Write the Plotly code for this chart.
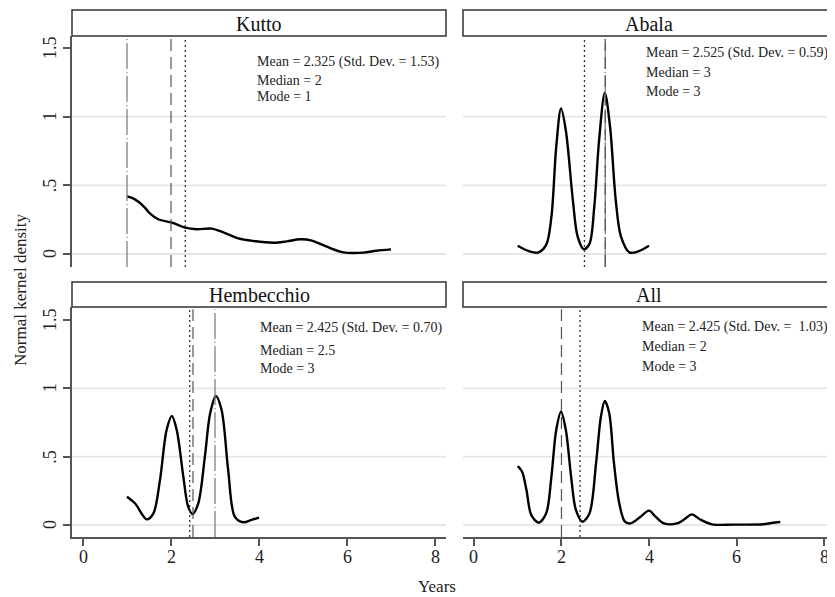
import plotly.graph_objects as go

# ---------------- data ----------------
panels = ["Kutto", "Abala", "Hembecchio", "All"]

kutto_x = [1.0, 1.1, 1.26, 1.4, 1.52, 1.71, 2.02, 2.32, 2.58, 2.92, 3.19, 3.53, 3.87, 4.33, 4.63, 4.93, 5.2, 5.54, 5.92, 6.37, 6.67, 7.0]
kutto_y = [0.42, 0.41, 0.38, 0.34, 0.296, 0.253, 0.228, 0.192, 0.18, 0.185, 0.158, 0.114, 0.095, 0.082, 0.092, 0.107, 0.098, 0.053, 0.012, 0.01, 0.024, 0.034]

abala_x = [1.0, 1.23, 1.46, 1.65, 1.77, 1.88, 1.99, 2.1, 2.26, 2.37, 2.51, 2.64, 2.75, 2.86, 2.99, 3.11, 3.24, 3.36, 3.55, 3.74, 4.0]
abala_y = [0.06, 0.024, 0.01, 0.066, 0.27, 0.78, 1.06, 0.90, 0.393, 0.126, 0.034, 0.075, 0.345, 0.83, 1.175, 0.927, 0.393, 0.126, 0.012, 0.017, 0.06]

hemb_x = [1.0, 1.18, 1.45, 1.6, 1.75, 1.9, 2.02, 2.13, 2.28, 2.39, 2.49, 2.62, 2.77, 2.89, 3.02, 3.15, 3.3, 3.45, 3.64, 3.83, 4.0]
hemb_y = [0.207, 0.159, 0.041, 0.085, 0.33, 0.695, 0.797, 0.695, 0.354, 0.134, 0.08, 0.159, 0.5, 0.817, 0.944, 0.841, 0.40, 0.061, 0.02, 0.037, 0.054]

all_x = [1.0, 1.1, 1.2, 1.31, 1.48, 1.65, 1.77, 1.88, 1.99, 2.1, 2.22, 2.33, 2.48, 2.64, 2.79, 2.9, 2.99, 3.09, 3.2, 3.32, 3.45, 3.58, 3.81, 4.0, 4.15, 4.34, 4.64, 4.8, 4.98, 5.17, 5.44, 5.94, 6.61, 6.8, 7.0]
all_y = [0.43, 0.39, 0.256, 0.073, 0.017, 0.085, 0.354, 0.695, 0.829, 0.695, 0.354, 0.11, 0.024, 0.085, 0.45, 0.79, 0.907, 0.82, 0.45, 0.159, 0.024, 0.012, 0.061, 0.105, 0.061, 0.012, 0.012, 0.04, 0.078, 0.04, 0.005, 0.003, 0.005, 0.015, 0.022]

means = [2.325, 2.525, 2.425, 2.425]
medians = [2, 3, 2.5, 2]
modes = [1, 3, 3, 3]
show_mode = [True, True, True, False]

mean_labels = ["Mean = 2.325 (Std. Dev. = 1.53)", "Mean = 2.525 (Std. Dev. = 0.59)",
               "Mean = 2.425 (Std. Dev. = 0.70)", "Mean = 2.425 (Std. Dev. =  1.03)"]
median_labels = ["Median = 2", "Median = 3", "Median = 2.5", "Median = 2"]
mode_labels = ["Mode = 1", "Mode = 3", "Mode = 3", "Mode = 3"]

x_ticks = [0, 2, 4, 6, 8]
x_ticktext = ["0", "2", "4", "6", "8"]
y_ticks = [0, 0.5, 1, 1.5]
y_ticktext = ["0", ".5", "1", "1.5"]

# ---------------- layout ----------------
FONT = "Liberation Serif"
OFF = 8  # page body margin: figure is drawn 8px in from the window corner
WW, WH = 835, 597
W, H = WW - OFF, WH - OFF
ml = 72 - OFF
mt = 10 - OFF
mr = 0
mb = WH - 537
pw = W - ml - mr
ph = H - mt - mb

def px_x(p):  # window pixel -> paper x
    return (p - OFF - ml) / pw

def px_y(p):  # window pixel -> paper y
    return (H - mb - (p - OFF)) / ph

xdom = [[0, px_x(446)], [px_x(463), 1.0], [0, px_x(446)], [px_x(463), 1.0]]
ydom_top = [px_y(267), px_y(36)]
ydom_bot = [0, px_y(307)]
ydom = [ydom_top, ydom_top, ydom_bot, ydom_bot]
yranges = [[-0.0947, 1.588], [-0.0947, 1.588], [-0.0878, 1.595], [-0.0878, 1.595]]

curves = [(kutto_x, kutto_y), (abala_x, abala_y), (hemb_x, hemb_y), (all_x, all_y)]

fig = go.Figure()
layout = dict(
    width=W, height=H,
    margin=dict(l=ml, r=mr, t=mt, b=mb, autoexpand=False),
    paper_bgcolor="white", plot_bgcolor="white",
    showlegend=False,
    font=dict(family=FONT, color="#222"),
)

shapes = []
annotations = []
TICKFONT = dict(family=FONT, size=18, color="#222")

for i in range(4):
    sfx = "" if i == 0 else str(i + 1)
    xa, ya = "x" + sfx, "y" + sfx
    fig.add_trace(go.Scatter(x=curves[i][0], y=curves[i][1], mode="lines",
                             line=dict(color="black", width=2.4, shape="spline", smoothing=0.9),
                             xaxis=xa, yaxis=ya, hoverinfo="skip"))
    left = i in (0, 2)
    bottom = i in (2, 3)
    layout["xaxis" + sfx] = dict(
        domain=xdom[i], range=[-0.25, 8.25], anchor=ya,
        showgrid=False, zeroline=False, automargin=False,
        showline=bottom, linecolor="#555", linewidth=1.5,
        ticks="outside" if bottom else "", ticklen=7, tickcolor="#555", tickwidth=1.5,
        tickvals=x_ticks, showticklabels=False,
    )
    layout["yaxis" + sfx] = dict(
        domain=ydom[i], range=yranges[i], anchor=xa,
        showgrid=False, zeroline=False, automargin=False,
        showline=left, linecolor="#555", linewidth=1.5,
        ticks="outside" if left else "", ticklen=7, tickcolor="#555", tickwidth=1.5,
        tickvals=y_ticks, showticklabels=False,
    )
    # tick labels placed as annotations (Stata-like spacing)
    if left:
        for tv, tt in zip(y_ticks, y_ticktext):
            annotations.append(dict(xref="paper", yref=ya, x=px_x(50), y=tv, text=tt,
                                    showarrow=False, xanchor="center", yanchor="middle",
                                    textangle=-90, font=TICKFONT))
    if bottom:
        for tv, tt in zip(x_ticks, x_ticktext):
            annotations.append(dict(xref=xa, yref="paper", x=tv, y=px_y(557), text=tt,
                                    showarrow=False, xanchor="center", yanchor="middle",
                                    font=TICKFONT))
    for gv in [0, 0.5, 1]:
        shapes.append(dict(type="line", xref=xa + " domain", yref=ya, x0=0, x1=1, y0=gv, y1=gv,
                           line=dict(color="#e6e6e6", width=1.8), layer="below"))
    if show_mode[i]:
        shapes.append(dict(type="line", xref=xa, yref=ya + " domain", x0=modes[i], x1=modes[i], y0=0, y1=0.99,
                           line=dict(color="#777", width=1.2, dash="26px,3px,1px,3px")))
    shapes.append(dict(type="line", xref=xa, yref=ya + " domain", x0=medians[i], x1=medians[i], y0=0, y1=0.99,
                       line=dict(color="#555", width=1.2, dash="12px,6px")))
    shapes.append(dict(type="line", xref=xa, yref=ya + " domain", x0=means[i], x1=means[i], y0=0, y1=0.99,
                       line=dict(color="#333", width=1.3, dash="2px,3px")))

# text blocks (window pixel positions measured)
text_pos = [
    (255, [62, 80, 97]),
    (644, [53, 73, 91]),
    (258, [328, 350, 369]),
    (640, [327, 347, 366]),
]
for i in range(4):
    xp, ys = text_pos[i]
    for txt, yp in zip([mean_labels[i], median_labels[i], mode_labels[i]], ys):
        annotations.append(dict(xref="paper", yref="paper", x=px_x(xp), y=px_y(yp), text=txt,
                                showarrow=False, xanchor="left", yanchor="middle",
                                font=dict(family=FONT, size=14, color="#222")))

headers = [
    (72, 446, 10, 36),
    (463, 845, 10, 36),
    (72, 446, 282, 307),
    (463, 845, 282, 307),
]
for i, (x0, x1, y0, y1) in enumerate(headers):
    shapes.append(dict(type="rect", xref="paper", yref="paper",
                       x0=px_x(x0), x1=px_x(x1), y0=px_y(y1), y1=px_y(y0),
                       line=dict(color="#333", width=1.5), fillcolor="white"))
    cx = (x0 + x1) / 2 if i in (0, 2) else 649
    annotations.append(dict(xref="paper", yref="paper", x=px_x(cx), y=px_y((y0 + y1) / 2 + 0.5),
                            text=panels[i], showarrow=False, xanchor="center", yanchor="middle",
                            font=dict(family=FONT, size=20, color="#111")))

annotations.append(dict(xref="paper", yref="paper", x=px_x(437), y=px_y(586), text="Years",
                        showarrow=False, xanchor="center", yanchor="middle",
                        font=dict(family=FONT, size=17, color="#222")))
annotations.append(dict(xref="paper", yref="paper", x=px_x(20), y=px_y(290), text="Normal kernel density",
                        showarrow=False, xanchor="center", yanchor="middle", textangle=-90,
                        font=dict(family=FONT, size=17, color="#222")))

layout["shapes"] = shapes
layout["annotations"] = annotations
fig.update_layout(**layout)
fig.write_html("out.html")
